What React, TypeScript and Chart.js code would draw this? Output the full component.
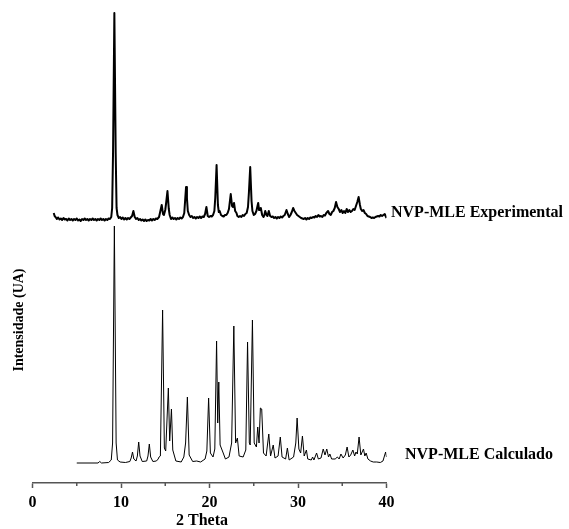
import React, { useEffect, useRef } from 'react';
import { Chart, registerables } from 'chart.js';

Chart.register(...registerables);

// ---------- data ----------
const xTickValues = [0, 10, 20, 30, 40];
const xMinorTicks = [5, 15, 25, 35];
const xTitle = '2 Theta';
const yTitle = 'Intensidade (UA)';
const seriesNames = ['NVP-MLE Experimental', 'NVP-MLE Calculado'];

// Experimental pattern: [2θ, intensity] (arbitrary units, includes the stacking offset)
const expPattern: [number, number][] = [
  [2.4, 270], [2.5, 267], [2.6, 266], [2.75, 264], [2.9, 265.5], [3.05, 263.5], [3.2, 264.5], [3.35, 263],
  [3.5, 265], [3.65, 263.5], [3.8, 264], [3.95, 262.5], [4.1, 264.5], [4.25, 263], [4.4, 264], [4.55, 262.5],
  [4.7, 264], [4.85, 263], [5.0, 264.5], [5.15, 262.5], [5.3, 263.5], [5.45, 262], [5.6, 264], [5.75, 263],
  [5.9, 264.5], [6.05, 263], [6.2, 264], [6.35, 262.5], [6.5, 264], [6.65, 263], [6.8, 264.5], [6.95, 263],
  [7.1, 264], [7.25, 262.5], [7.4, 264], [7.55, 263], [7.7, 264.5], [7.85, 263], [8.0, 264], [8.15, 262.5],
  [8.3, 264], [8.45, 263], [8.6, 264.5], [8.75, 264], [8.9, 266], [9.0, 275], [9.1, 330], [9.25, 470],
  [9.4, 330], [9.5, 275], [9.6, 268], [9.75, 265], [9.9, 266], [10.05, 264], [10.2, 265.5], [10.35, 263.5],
  [10.5, 265], [10.65, 263.5], [10.8, 265], [10.95, 264], [11.1, 265.5], [11.25, 267], [11.4, 272], [11.55, 266],
  [11.7, 264], [11.85, 265], [12.0, 263], [12.15, 264], [12.3, 262.5], [12.45, 263.5], [12.6, 262], [12.75, 263.5],
  [12.9, 262], [13.05, 263], [13.2, 262.5], [13.35, 264], [13.5, 262.5], [13.65, 264], [13.8, 263], [13.95, 264.5],
  [14.1, 264], [14.3, 266], [14.45, 272], [14.6, 278], [14.75, 269], [14.85, 268], [15.0, 273], [15.1, 280],
  [15.25, 292], [15.4, 274], [15.5, 268], [15.65, 264], [15.8, 265.5], [15.95, 264], [16.1, 265], [16.25, 263.5],
  [16.4, 265], [16.55, 264], [16.7, 265.5], [16.85, 264.5], [17.0, 266], [17.15, 270], [17.35, 296], [17.45, 285],
  [17.55, 272], [17.7, 268], [17.85, 266], [18.0, 267], [18.15, 265], [18.3, 266], [18.45, 264.5], [18.6, 266],
  [18.75, 265], [18.9, 266.5], [19.05, 265], [19.2, 266.5], [19.35, 266], [19.5, 269], [19.65, 276], [19.8, 267],
  [19.95, 266], [20.1, 267], [20.25, 266.5], [20.4, 268], [20.55, 272], [20.65, 285], [20.8, 318], [20.95, 278],
  [21.05, 271], [21.15, 272], [21.3, 268], [21.45, 267], [21.6, 266.5], [21.75, 268], [21.9, 268], [22.05, 270],
  [22.2, 274], [22.4, 289], [22.55, 277], [22.65, 276], [22.77, 280], [22.9, 272], [23.05, 270], [23.15, 267],
  [23.3, 266], [23.45, 267], [23.6, 266], [23.75, 268], [23.9, 267], [24.05, 269], [24.2, 270], [24.35, 276],
  [24.45, 290], [24.6, 316], [24.75, 282], [24.85, 272], [25.0, 268], [25.15, 269], [25.3, 272], [25.5, 280],
  [25.6, 273], [25.7, 274], [25.8, 275], [25.95, 268], [26.1, 266], [26.2, 268], [26.3, 272], [26.45, 268],
  [26.55, 267], [26.7, 272], [26.85, 267], [27.0, 266], [27.15, 266.5], [27.3, 265], [27.45, 266], [27.6, 264.5],
  [27.75, 266], [27.9, 265], [28.05, 266.5], [28.2, 265.5], [28.35, 267], [28.5, 268], [28.7, 273], [28.85, 269],
  [29.0, 266], [29.15, 268], [29.3, 271], [29.45, 275], [29.6, 272], [29.75, 270], [29.9, 268], [30.05, 267],
  [30.2, 266], [30.35, 265], [30.5, 264.5], [30.65, 264], [30.8, 265], [30.95, 263.5], [31.1, 265], [31.25, 264],
  [31.4, 265.5], [31.55, 265], [31.7, 266], [31.85, 265.5], [32.0, 267], [32.15, 266], [32.3, 268], [32.45, 266.5],
  [32.6, 267], [32.75, 266], [32.9, 268], [33.05, 267.5], [33.2, 270], [33.4, 272], [33.55, 269], [33.7, 268],
  [33.85, 271], [34.0, 272], [34.15, 275], [34.3, 281], [34.45, 276], [34.6, 274], [34.75, 271], [34.9, 273],
  [35.05, 270], [35.2, 272], [35.35, 270], [35.5, 274], [35.65, 271], [35.8, 273], [35.95, 271], [36.1, 272],
  [36.25, 274], [36.4, 273], [36.55, 277], [36.7, 281], [36.85, 286], [37.0, 278], [37.1, 274], [37.25, 272],
  [37.4, 273], [37.55, 270], [37.7, 269], [37.85, 267], [38.0, 266.5], [38.15, 266], [38.3, 265], [38.45, 265.5],
  [38.6, 265], [38.75, 266], [38.9, 266.5], [39.05, 267], [39.2, 266.5], [39.35, 268], [39.5, 267], [39.65, 268],
  [39.8, 269], [39.9, 267], [40.0, 265],
];

// Calculated pattern
const calcTheta = [
  5.0, 7.4, 7.6, 7.8, 8.6, 8.9, 9.05, 9.25, 9.45, 9.6, 9.9, 10.5, 11.0, 11.15, 11.3, 11.45, 11.7, 11.85, 12.0, 12.15,
  12.4, 12.9, 13.05, 13.2, 13.35, 13.6, 14.0, 14.2, 14.3, 14.45, 14.7, 14.9, 15.05, 15.35, 15.5, 15.7, 15.85, 16.2, 16.8, 17.1,
  17.3, 17.5, 17.7, 18.1, 18.55, 19.0, 19.5, 19.7, 19.9, 20.1, 20.4, 20.6, 20.8, 20.93, 21.05, 21.2, 21.55, 21.8, 22.2, 22.5,
  22.75, 22.95, 23.15, 23.35, 23.8, 24.1, 24.3, 24.5, 24.6, 24.85, 25.05, 25.3, 25.45, 25.6, 25.75, 25.9, 26.1, 26.4, 26.7, 26.9,
  27.2, 27.4, 27.75, 28.0, 28.2, 28.6, 28.8, 29.0, 29.5, 29.75, 29.9, 30.1, 30.3, 30.5, 30.7, 30.95, 31.1, 31.5, 31.65, 31.8,
  32.1, 32.3, 32.6, 32.85, 33.05, 33.25, 33.45, 33.6, 33.8, 34.2, 34.45, 34.65, 34.85, 35.1, 35.35, 35.55, 35.75, 35.95, 36.2, 36.4,
  36.55, 36.7, 36.9, 37.1, 37.4, 37.55, 37.7, 37.9, 38.2, 38.5, 38.9, 39.3, 39.6, 39.9, 40.0,
];
const calcInt = [
  20, 20, 21.5, 20, 20.5, 23, 40, 257, 40, 23, 21, 20.5, 21.5, 25, 31, 24, 22, 27, 41, 27,
  21.5, 22, 27, 39, 26, 21.5, 22, 24, 26, 27, 173, 35, 32, 95, 42, 74, 33, 22, 21, 26,
  40, 86, 28, 21.5, 22, 21, 24, 32, 85, 30, 26, 34, 142, 60, 101, 38, 30, 24, 26, 40,
  157, 40, 45, 27, 26, 33, 141, 40, 38, 163, 40, 36, 56, 40, 75, 74, 30, 27, 49, 27,
  38, 25, 27, 46, 26, 24, 35, 23, 26, 40, 65, 34, 30, 47, 27, 33, 24, 23, 26, 23,
  30, 24, 25, 34, 28, 34, 26, 29, 24, 24, 26, 24, 29, 25, 28, 36, 26, 28, 33, 27,
  31, 29, 46, 28, 34, 27, 30, 24, 22, 21, 21, 20.5, 22, 31, 26,
];

const FONT = "'Liberation Serif', 'Times New Roman', serif";

const overlayPlugin = {
  id: 'overlay',
  afterDraw(chart: any) {
    const { ctx, scales } = chart;
    const xs = scales.x;
    const bottom = chart.chartArea.bottom;
    ctx.save();
    // minor ticks
    ctx.strokeStyle = '#555';
    ctx.lineWidth = 1.5;
    xMinorTicks.forEach((v) => {
      const px = xs.getPixelForValue(v);
      ctx.beginPath();
      ctx.moveTo(px, bottom);
      ctx.lineTo(px, bottom + 3);
      ctx.stroke();
    });
    ctx.fillStyle = '#000';
    // x title
    ctx.font = `bold 16px ${FONT}`;
    ctx.textAlign = 'center';
    ctx.textBaseline = 'middle';
    ctx.fillText(xTitle, 202, 521);
    // y title
    ctx.save();
    ctx.translate(19, 320);
    ctx.rotate(-Math.PI / 2);
    ctx.font = `bold 14px ${FONT}`;
    ctx.fillText(yTitle, 0, 0);
    ctx.restore();
    // series labels
    ctx.font = `bold 16px ${FONT}`;
    ctx.textAlign = 'left';
    const xEnd = xs.getPixelForValue(40);
    ctx.fillText(seriesNames[0], xEnd + 4.5, 212.5);
    ctx.fillText(seriesNames[1], xEnd + 18.5, 455);
    ctx.restore();
  },
};

export default function App() {
  const ref = useRef<HTMLCanvasElement>(null);
  useEffect(() => {
    if (!ref.current) return;
    const chart = new Chart(ref.current, {
      type: 'line',
      data: {
        datasets: [
          {
            label: seriesNames[0],
            data: expPattern.map(([t, v]) => ({ x: t, y: v })),
            borderColor: '#000',
            borderWidth: 2,
            pointRadius: 0,
            tension: 0,
            borderJoinStyle: 'round',
          },
          {
            label: seriesNames[1],
            data: calcTheta.map((t, i) => ({ x: t, y: calcInt[i] })),
            borderColor: '#000',
            borderWidth: 1,
            pointRadius: 0,
            tension: 0,
          },
        ],
      },
      options: {
        responsive: false,
        devicePixelRatio: 1,
        animation: false,
        events: [],
        layout: { padding: { left: 32.5, right: 182.5, top: 8, bottom: 0 } },
        plugins: { legend: { display: false }, tooltip: { enabled: false } },
        scales: {
          x: {
            type: 'linear',
            min: 0,
            max: 40,
            afterBuildTicks: (scale: any) => {
              scale.ticks = xTickValues.map((v) => ({ value: v }));
            },
            afterFit: (scale: any) => {
              scale.height = 46;
              scale.paddingLeft = 0;
              scale.paddingRight = 0;
            },
            ticks: {
              color: '#000',
              padding: 5,
              maxRotation: 0,
              font: { family: FONT, size: 16, weight: 'bold' },
            },
            grid: {
              drawOnChartArea: false,
              drawTicks: true,
              tickLength: 5,
              tickWidth: 1.5,
              color: '#555',
            },
            border: { display: true, color: '#555', width: 1.5 },
          },
          y: { display: false, min: 0, max: 475 },
        },
      },
      plugins: [overlayPlugin],
    } as any);
    return () => chart.destroy();
  }, []);
  return (
    <div style={{ position: 'fixed', left: 0, top: 0, width: 569, height: 529, background: '#fff' }}>
      <canvas ref={ref} width={569} height={529} style={{ display: 'block' }} />
    </div>
  );
}
